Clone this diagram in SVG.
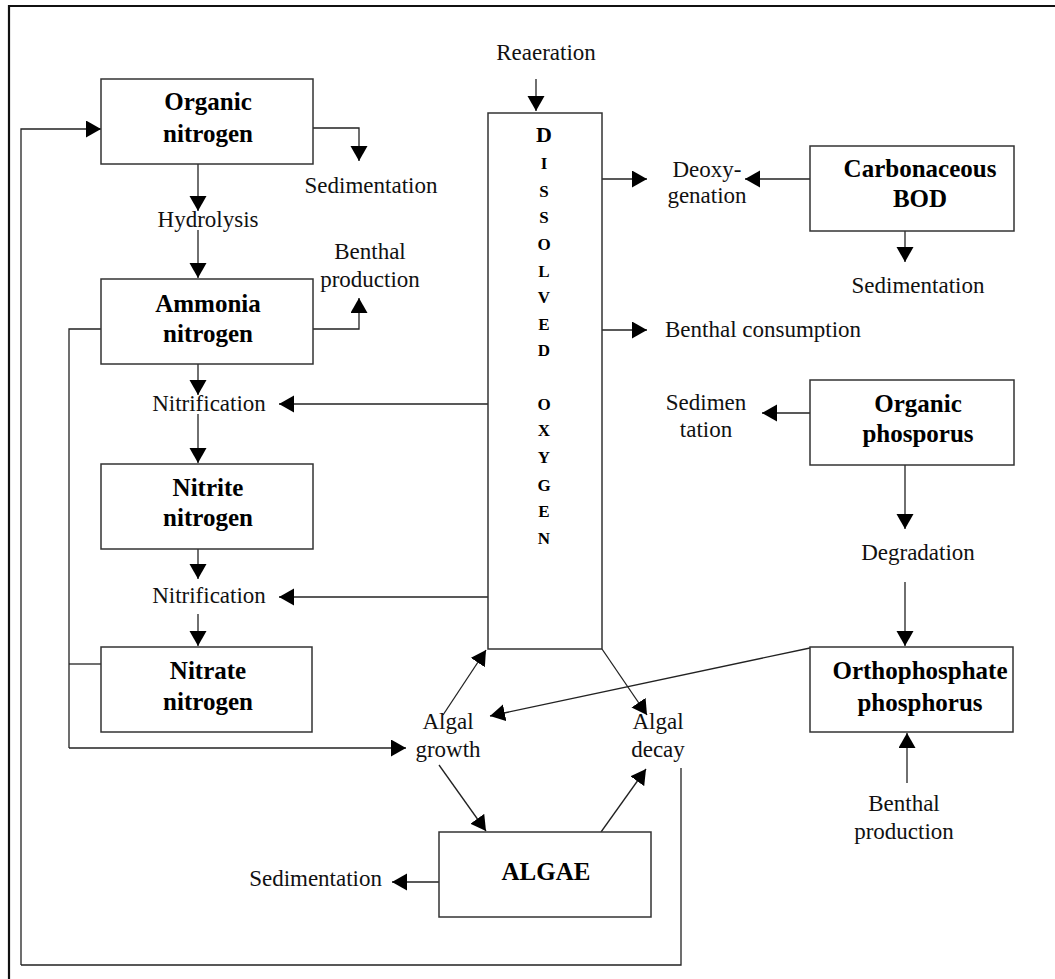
<svg xmlns="http://www.w3.org/2000/svg" width="1055" height="979" viewBox="0 0 1055 979">
<defs>
<marker id="ah" markerUnits="userSpaceOnUse" markerWidth="16" markerHeight="18" refX="15" refY="8.5" orient="auto">
<path d="M0,0 L15,8.5 L0,17 z" fill="#000"/>
</marker>
<style>
.box{fill:#fff;stroke:#333;stroke-width:1.5}
.c{fill:none;stroke:#222;stroke-width:1.3}
.a{marker-end:url(#ah)}
.b{font-family:"Liberation Serif","Times New Roman",serif;font-weight:bold;font-size:25px;fill:#000;text-anchor:middle}
.t{font-family:"Liberation Serif","Times New Roman",serif;font-size:23px;fill:#111;text-anchor:middle}
.l{font-family:"Liberation Serif","Times New Roman",serif;font-weight:bold;font-size:17px;fill:#000;text-anchor:middle}
</style>
</defs>
<rect x="0" y="0" width="1055" height="979" fill="#fff"/>
<path d="M9,979 L9,6 L1055,6" fill="none" stroke="#111" stroke-width="2.2"/>

<g id="connectors">
<path class="c a" d="M21,965 L21,129 L101,129"/>
<path class="c" d="M681,768 L681,965 L21,965"/>
<path class="c a" d="M313,128 L359,128 L359,161"/>
<path class="c a" d="M198,164 L198,211"/>
<path class="c a" d="M198,230 L198,278"/>
<path class="c a" d="M313,329 L359,329 L359,298"/>
<path class="c" d="M101,329 L69,329 L69,748"/>
<path class="c" d="M69,664 L101,664"/>
<path class="c a" d="M69,748 L406,748"/>
<path class="c a" d="M198,364 L198,395"/>
<path class="c a" d="M198,414 L198,463"/>
<path class="c a" d="M488,404 L279,404"/>
<path class="c a" d="M198,549 L198,579"/>
<path class="c a" d="M198,614 L198,646"/>
<path class="c a" d="M488,597 L279,597"/>
<path class="c a" d="M536,79 L536,111"/>
<path class="c a" d="M602,179 L647,179"/>
<path class="c a" d="M810,179 L745,179"/>
<path class="c a" d="M905,231 L905,262"/>
<path class="c a" d="M602,330 L647,330"/>
<path class="c a" d="M810,413 L762,413"/>
<path class="c a" d="M905,465 L905,529"/>
<path class="c a" d="M905,582 L905,646"/>
<path class="c a" d="M907,783 L907,733"/>
<path class="c a" d="M810,648 L490,716"/>
<path class="c a" d="M443,715 L486,650"/>
<path class="c a" d="M602,649 L647,715"/>
<path class="c a" d="M439,765 L486,831"/>
<path class="c a" d="M601,832 L646,769"/>
<path class="c a" d="M439,882 L392,882"/>
</g>

<g id="organic-nitrogen">
<rect class="box" x="101" y="79" width="212" height="85"/>
<text class="b" x="208" y="110">Organic</text>
<text class="b" x="208" y="142">nitrogen</text>
</g>
<g id="ammonia-nitrogen">
<rect class="box" x="101" y="279" width="212" height="85"/>
<text class="b" x="208" y="312">Ammonia</text>
<text class="b" x="208" y="342">nitrogen</text>
</g>
<g id="nitrite-nitrogen">
<rect class="box" x="101" y="464" width="212" height="85"/>
<text class="b" x="208" y="496">Nitrite</text>
<text class="b" x="208" y="526">nitrogen</text>
</g>
<g id="nitrate-nitrogen">
<rect class="box" x="101" y="647" width="211" height="85"/>
<text class="b" x="208" y="679">Nitrate</text>
<text class="b" x="208" y="710">nitrogen</text>
</g>
<g id="dissolved-oxygen">
<rect class="box" x="488" y="113" width="114" height="536"/>
<text class="l" x="544" y="142" style="font-size:22px">D</text>
<text class="l" x="544" y="169">I</text>
<text class="l" x="544" y="197">S</text>
<text class="l" x="544" y="223">S</text>
<text class="l" x="544" y="250">O</text>
<text class="l" x="544" y="277">L</text>
<text class="l" x="544" y="303">V</text>
<text class="l" x="544" y="330">E</text>
<text class="l" x="544" y="356">D</text>
<text class="l" x="544" y="410">O</text>
<text class="l" x="544" y="436">X</text>
<text class="l" x="544" y="463">Y</text>
<text class="l" x="544" y="491">G</text>
<text class="l" x="544" y="517">E</text>
<text class="l" x="544" y="544">N</text>
</g>
<g id="carbonaceous-bod">
<rect class="box" x="810" y="146" width="204" height="85"/>
<text class="b" x="920" y="177">Carbonaceous</text>
<text class="b" x="920" y="207">BOD</text>
</g>
<g id="organic-phosphorus">
<rect class="box" x="810" y="380" width="204" height="85"/>
<text class="b" x="918" y="412">Organic</text>
<text class="b" x="918" y="442">phosporus</text>
</g>
<g id="orthophosphate">
<rect class="box" x="810" y="647" width="203" height="85"/>
<text class="b" x="920" y="679">Orthophosphate</text>
<text class="b" x="920" y="711">phosphorus</text>
</g>
<g id="algae">
<rect class="box" x="439" y="832" width="212" height="85"/>
<text class="b" x="546" y="880">ALGAE</text>
</g>

<g id="labels">
<text class="t" x="546" y="60">Reaeration</text>
<text class="t" x="371" y="193">Sedimentation</text>
<text class="t" x="208" y="227">Hydrolysis</text>
<text class="t" x="370" y="259">Benthal</text>
<text class="t" x="370" y="287">production</text>
<text class="t" x="209" y="411">Nitrification</text>
<text class="t" x="209" y="603">Nitrification</text>
<text class="t" x="707" y="177">Deoxy-</text>
<text class="t" x="707" y="203">genation</text>
<text class="t" x="918" y="293">Sedimentation</text>
<text class="t" x="665" y="337" style="text-anchor:start">Benthal consumption</text>
<text class="t" x="706" y="410">Sedimen</text>
<text class="t" x="706" y="437">tation</text>
<text class="t" x="918" y="560">Degradation</text>
<text class="t" x="448" y="729">Algal</text>
<text class="t" x="448" y="757">growth</text>
<text class="t" x="658" y="729">Algal</text>
<text class="t" x="658" y="757">decay</text>
<text class="t" x="904" y="811">Benthal</text>
<text class="t" x="904" y="839">production</text>
<text class="t" x="382" y="886" style="text-anchor:end">Sedimentation</text>
</g>
</svg>
